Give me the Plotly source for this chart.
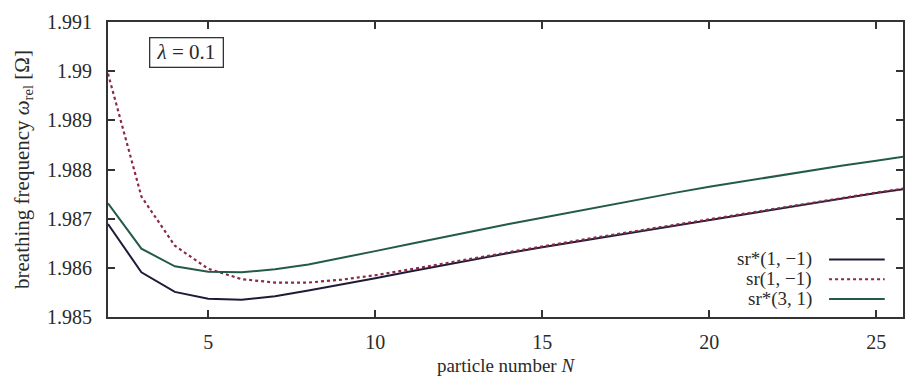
import plotly.graph_objects as go

N = list(range(2, 27))
sr_star_1m1 = [1.98689, 1.98591, 1.98551, 1.98537, 1.98535, 1.98542, 1.98554, 1.98566,
               1.98579, 1.98592, 1.98605, 1.98618, 1.98630, 1.98642, 1.98653, 1.98664,
               1.98676, 1.98687, 1.98698, 1.98709, 1.98720, 1.98731, 1.98742, 1.98752, 1.98762]
sr_1m1 = [1.98995, 1.98745, 1.98645, 1.98598, 1.98577, 1.98570, 1.98570, 1.98576,
          1.98585, 1.98596, 1.98608, 1.98620, 1.98632, 1.98644, 1.98655, 1.98666,
          1.98677, 1.98688, 1.98699, 1.98710, 1.98721, 1.98732, 1.98742, 1.98753, 1.98763]
sr_star_31 = [1.98731, 1.98639, 1.98603, 1.98592, 1.98591, 1.98597, 1.98607, 1.98620,
              1.98634, 1.98648, 1.98662, 1.98676, 1.98689, 1.98702, 1.98715, 1.98728,
              1.98741, 1.98753, 1.98765, 1.98776, 1.98787, 1.98798, 1.98808, 1.98818, 1.98828]

series_names = ["sr*(1, −1)", "sr(1, −1)", "sr*(3, 1)"]
series_values = [sr_star_1m1, sr_1m1, sr_star_31]
colors = ["#1c1c38", "#8a2a45", "#235a48"]
dashes = ["solid", "dot", "solid"]
widths = [2, 2.2, 2]

x_ticks = [5, 10, 15, 20, 25]
y_ticks = [1.985, 1.986, 1.987, 1.988, 1.989, 1.990, 1.991]
y_tick_text = ["1.985", "1.986", "1.987", "1.988", "1.989", "1.99", "1.991"]

FONT = "Liberation Serif"
TXT = "#2a2a2a"

fig = go.Figure()
for name, vals, c, d, w in zip(series_names, series_values, colors, dashes, widths):
    fig.add_trace(go.Scatter(x=N, y=vals, mode="lines", name=name, showlegend=False,
                             line=dict(color=c, dash=d, width=w)))

# legend (text then line sample, like the gnuplot key)
legend_y = [0.195, 0.128, 0.061]
for name, c, d, w, ly in zip(series_names, colors, dashes, widths, legend_y):
    fig.add_annotation(x=0.888, y=ly, xref="paper", yref="paper", text=name,
                       showarrow=False, xanchor="right", yanchor="middle",
                       font=dict(family=FONT, size=19, color=TXT))
    fig.add_shape(type="line", xref="paper", yref="paper", x0=0.907, x1=0.977,
                  y0=ly, y1=ly, line=dict(color=c, dash=d, width=w))

fig.add_annotation(x=0.051, y=0.95, xref="paper", yref="paper", text=" <i>λ</i> = 0.1 ",
                   showarrow=False, xanchor="left", yanchor="top",
                   font=dict(family=FONT, size=21, color=TXT),
                   bordercolor="#333", borderwidth=1.3, borderpad=2, bgcolor="white")

axis_common = dict(showgrid=False, zeroline=False, showline=True, linecolor="#333",
                   linewidth=2, mirror="ticks", ticks="inside", ticklen=7,
                   tickcolor="#333", tickwidth=1.5,
                   tickfont=dict(family=FONT, size=20, color=TXT))

fig.update_xaxes(range=[2, 25.8], tickvals=x_ticks, ticklabelstandoff=6,
                 title=dict(text="particle number <i>N</i>", standoff=10,
                            font=dict(family=FONT, size=19, color=TXT)),
                 **axis_common)
fig.update_yaxes(range=[1.985, 1.991], tickvals=y_ticks, ticktext=y_tick_text,
                 ticklabelstandoff=10,
                 title=dict(text="breathing frequency <i>ω</i><sub>rel</sub> [Ω]", standoff=12,
                            font=dict(family=FONT, size=21, color=TXT)),
                 **axis_common)

fig.update_layout(width=905, height=376, margin=dict(l=108, r=0, t=22, b=58),
                  plot_bgcolor="white", paper_bgcolor="white")

fig.write_html("out.html")
